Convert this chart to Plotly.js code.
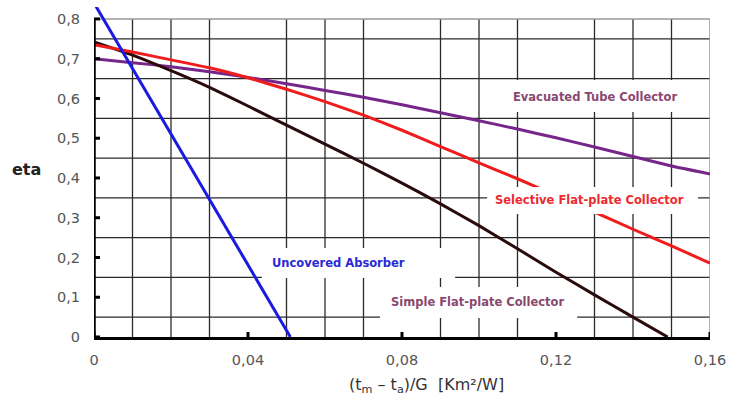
<!DOCTYPE html>
<html>
<head>
<meta charset="utf-8">
<script src="https://cdn.plot.ly/plotly-3.0.1.min.js"></script>
<style>html,body{margin:0;padding:0;background:#fff;}#chart{width:729px;height:398px;}</style>
</head>
<body>
<div id="chart"></div>
<script>
// ---- data ----
const gridX = [0, 0.01, 0.02, 0.03, 0.04, 0.05, 0.06, 0.07, 0.08, 0.09, 0.10, 0.11, 0.12, 0.13, 0.14, 0.15, 0.16];
const evacuatedEta = [0.700, 0.690, 0.680, 0.667, 0.653, 0.637, 0.620, 0.603, 0.584, 0.564, 0.544, 0.523, 0.501, 0.478, 0.454, 0.430, 0.410];
const selectiveEta = [0.735, 0.717, 0.697, 0.677, 0.652, 0.623, 0.592, 0.558, 0.520, 0.479, 0.438, 0.398, 0.356, 0.314, 0.271, 0.229, 0.186];
const simpleX = [0, 0.01, 0.02, 0.03, 0.04, 0.05, 0.06, 0.07, 0.08, 0.09, 0.10, 0.11, 0.12, 0.13, 0.14, 0.149];
const simpleEta = [0.742, 0.709, 0.670, 0.628, 0.581, 0.533, 0.485, 0.437, 0.387, 0.335, 0.280, 0.222, 0.163, 0.106, 0.050, 0];
const uncoveredX = [0, 0.051];
const uncoveredEta = [0.84, 0];

const seriesNames = ["Evacuated Tube Collector", "Selective Flat-plate Collector", "Uncovered Absorber", "Simple Flat-plate Collector"];
const xTickVals = [0, 0.04, 0.08, 0.12, 0.16];
const yTickVals = [0, 0.1, 0.2, 0.3, 0.4, 0.5, 0.6, 0.7, 0.8];
const xGridVals = [0.01, 0.02, 0.03, 0.05, 0.06, 0.07, 0.09, 0.10, 0.11, 0.13, 0.14, 0.15];
const yGridVals = [0.05, 0.15, 0.25, 0.35, 0.45, 0.55, 0.65, 0.75];
const xTitle = "(t<sub>m</sub> – t<sub>a</sub>)/G  [Km²/W]";
const yTitle = "<b>eta</b>";

// ---- styling ----
const colEvac = "#76258a", colSel = "#f01c1c", colUnc = "#1a1ae0", colSimple = "#2a0a0a";
const font = "DejaVu Sans, Verdana, sans-serif";
const X_MAX = 0.16, Y_TOP = 0.8;

const traces = [
  {x: gridX, y: evacuatedEta, name: seriesNames[0], mode: "lines", line: {color: colEvac, width: 3, shape: "spline", smoothing: 0.4}},
  {x: simpleX, y: simpleEta, name: seriesNames[3], mode: "lines", line: {color: colSimple, width: 3, shape: "spline", smoothing: 0.4}},
  {x: gridX, y: selectiveEta, name: seriesNames[1], mode: "lines", line: {color: colSel, width: 3, shape: "spline", smoothing: 0.4}},
  {x: uncoveredX, y: uncoveredEta, name: seriesNames[2], mode: "lines", line: {color: colUnc, width: 3}}
];

const shapes = [];
// grid lines (none at the labelled ticks, as in the reference)
xGridVals.forEach(v => shapes.push({type: "line", xref: "x", yref: "y", x0: v, x1: v, y0: 0, y1: Y_TOP,
  line: {color: "#2a2a2a", width: 1.3}, layer: "below"}));
yGridVals.forEach(v => shapes.push({type: "line", xref: "x", yref: "y", x0: 0, x1: X_MAX, y0: v, y1: v,
  line: {color: "#2a2a2a", width: 1.3}, layer: "below"}));
// frame: thin grey top and right borders, thick left axis
shapes.push({type: "line", xref: "x", yref: "y", x0: 0, x1: X_MAX, y0: Y_TOP, y1: Y_TOP, line: {color: "#999", width: 1.5}, layer: "below"});
shapes.push({type: "line", xref: "x", yref: "y", x0: X_MAX, x1: X_MAX, y0: 0, y1: Y_TOP, line: {color: "#999", width: 1.5}, layer: "below"});
shapes.push({type: "line", xref: "x", yref: "y", x0: 0, x1: 0, y0: 0, y1: Y_TOP, line: {color: "#000", width: 3.5}, layer: "above"});
// crossing tick marks
xTickVals.forEach(v => shapes.push({type: "line", xref: "x", yref: "y", x0: v, x1: v, ysizemode: "pixel", yanchor: 0,
  y0: -5, y1: 5, line: {color: "#000", width: 3}, layer: "above"}));
yTickVals.forEach(v => shapes.push({type: "line", xref: "x", yref: "y", y0: v, y1: v, xsizemode: "pixel", xanchor: 0,
  x0: -6, x1: 6, line: {color: "#000", width: 3}, layer: "above"}));

function box(x0, x1, y0, y1) {
  return {type: "rect", xref: "x", yref: "y", x0: x0, x1: x1, y0: y0, y1: y1,
          fillcolor: "#ffffff", line: {width: 0}, layer: "above"};
}
shapes.push(box(0.1055, 0.1561, 0.5659, 0.6464));
shapes.push(box(0.1021, 0.1569, 0.3094, 0.3773));
shapes.push(box(0.0436, 0.0938, 0.1484, 0.2238));
shapes.push(box(0.0743, 0.1255, 0.0478, 0.1258));

function label(text, x, y, color) {
  return {text: "<b>" + text + "</b>", x: x, y: y, xref: "x", yref: "y", showarrow: false,
          font: {family: font, size: 11.5, color: color}, xanchor: "center", yanchor: "middle"};
}

const tickFont = {family: font, size: 14.5, color: "#555"};

const layout = {
  width: 729, height: 398,
  margin: {l: 94, r: 19, t: 7, b: 61},
  paper_bgcolor: "#fff", plot_bgcolor: "#fff",
  showlegend: false,
  separators: ", ",
  xaxis: {
    range: [0, X_MAX], tickmode: "array", tickvals: xTickVals, showgrid: false, zeroline: false,
    showline: true, linecolor: "#000", linewidth: 3, ticks: "",
    tickfont: tickFont, ticklabelstandoff: 8
  },
  yaxis: {
    range: [0, 0.83], tickmode: "array", tickvals: yTickVals, showgrid: false, zeroline: false,
    showline: false, ticks: "",
    tickfont: tickFont, ticklabelstandoff: 13
  },
  shapes: shapes,
  annotations: [
    label(seriesNames[0], 0.1301, 0.6036, "#8a4870"),
    label(seriesNames[1], 0.1286, 0.3446, "#ec2a30"),
    label(seriesNames[2], 0.0636, 0.1861, "#2a2ad6"),
    label(seriesNames[3], 0.0996, 0.0880, "#8a4870"),
    {text: yTitle, xref: "paper", yref: "paper", x: -0.1088, y: 0.509, showarrow: false,
     xanchor: "center", yanchor: "middle", font: {family: font, size: 16, color: "#222"}},
    {text: xTitle, xref: "paper", yref: "paper", x: 0.539, y: -0.1455, showarrow: false,
     xanchor: "center", yanchor: "middle", font: {family: font, size: 16, color: "#333"}}
  ]
};

Plotly.newPlot("chart", traces, layout, {staticPlot: true, displayModeBar: false});
</script>
</body>
</html>
